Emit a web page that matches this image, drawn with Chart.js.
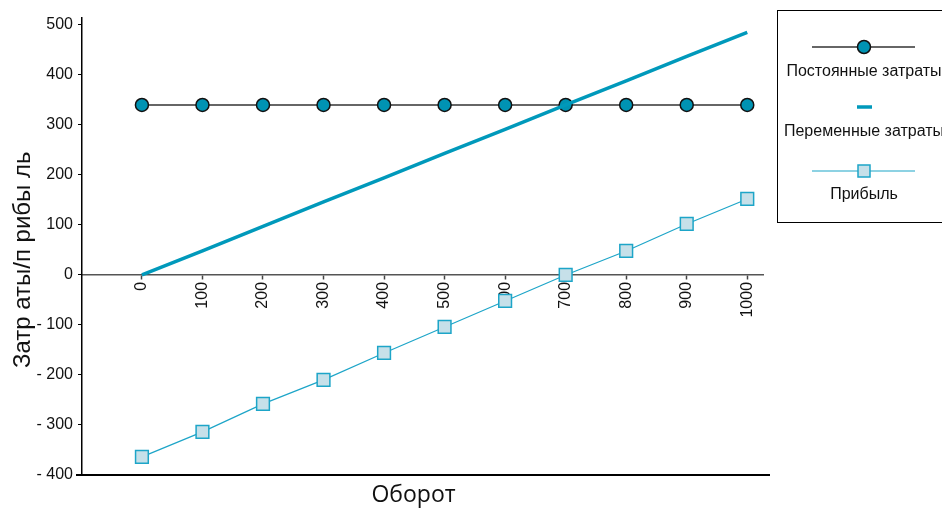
<!DOCTYPE html>
<html>
<head>
<meta charset="utf-8">
<script src="https://cdn.jsdelivr.net/npm/chart.js@4/dist/chart.umd.min.js"></script>
<style>
  html, body { margin: 0; padding: 0; background: #fff; }
  #wrap { width: 942px; height: 513px; position: relative; }
</style>
</head>
<body>
<div id="wrap"><canvas id="breakEven"></canvas></div>
<script>
// values
const turnover = [0, 100, 200, 300, 400, 500, 600, 700, 800, 900, 1000];
const fixedCosts = [340, 340, 340, 340, 340, 340, 340, 340, 340, 340, 340];
const variableCosts = [0, 48, 97, 146, 194, 243, 291, 340, 388, 437, 485];
const profit = [-364, -314, -258, -210, -156, -104, -52, 0, 48, 102, 152];
const yTicks = [-400, -300, -200, -100, 0, 100, 200, 300, 400, 500];

const seriesNames = ["Постоянные затраты", "Переменные затраты", "Прибыль"];

const TEAL = "#0093b3";
const LINE_BLUE = "#1da5c8";
const SQ_FILL = "#c6e0e9";
const FONT = "'Liberation Sans', Arial, sans-serif";

function pairs(vals) {
    return turnover.map((t, i) => ({ x: t, y: vals[i] }));
}

// legend box + bottom frame line
const extras = {
    id: "extras",
    afterDraw(chart) {
        const ctx = chart.ctx;
        const area = chart.chartArea;
        ctx.save();
        // bottom frame line
        ctx.strokeStyle = "#000";
        ctx.lineWidth = 2;
        ctx.beginPath();
        ctx.moveTo(area.left - 6, area.bottom);
        ctx.lineTo(area.right + 7, area.bottom);
        ctx.stroke();

        // legend box
        ctx.lineWidth = 1;
        ctx.strokeStyle = "#000";
        ctx.strokeRect(777.5, 10.5, 170, 212);

        const cx = 864;
        ctx.font = "16px " + FONT;
        ctx.fillStyle = "#111";
        ctx.textAlign = "center";
        ctx.textBaseline = "middle";

        // item 1
        ctx.strokeStyle = "#333";
        ctx.lineWidth = 1.5;
        ctx.beginPath();
        ctx.moveTo(812, 47); ctx.lineTo(915, 47);
        ctx.stroke();
        ctx.beginPath();
        ctx.arc(cx, 47, 6.5, 0, Math.PI * 2);
        ctx.fillStyle = TEAL;
        ctx.fill();
        ctx.strokeStyle = "#111";
        ctx.stroke();
        ctx.fillStyle = "#111";
        ctx.fillText(seriesNames[0], cx, 72);

        // item 2
        ctx.strokeStyle = "#0099bb";
        ctx.lineWidth = 3.5;
        ctx.beginPath();
        ctx.moveTo(857, 107); ctx.lineTo(872, 107);
        ctx.stroke();
        ctx.fillText(seriesNames[1], cx, 132);

        // item 3
        ctx.strokeStyle = LINE_BLUE;
        ctx.lineWidth = 1.2;
        ctx.beginPath();
        ctx.moveTo(812, 171); ctx.lineTo(915, 171);
        ctx.stroke();
        ctx.fillStyle = SQ_FILL;
        ctx.fillRect(cx - 6, 165, 12, 12);
        ctx.lineWidth = 1.5;
        ctx.strokeRect(cx - 6, 165, 12, 12);
        ctx.fillStyle = "#111";
        ctx.fillText(seriesNames[2], cx, 195);
        ctx.restore();
    },
};

const ctx = document.getElementById("breakEven").getContext("2d");
window.breakEvenChart = new Chart(ctx, {
    type: "line",
    data: {
        datasets: [
            {
                label: seriesNames[0],
                data: pairs(fixedCosts),
                borderColor: "#333",
                borderWidth: 1.5,
                pointStyle: "circle",
                pointRadius: 6.5,
                pointBackgroundColor: TEAL,
                pointBorderColor: "#111",
                pointBorderWidth: 1.5,
                order: 2,
            },
            {
                label: seriesNames[1],
                data: pairs(variableCosts),
                borderColor: "#0099bb",
                borderWidth: 3.5,
                pointRadius: 0,
                order: 1,
            },
            {
                label: seriesNames[2],
                data: pairs(profit),
                borderColor: LINE_BLUE,
                borderWidth: 1.2,
                pointStyle: "rect",
                pointRadius: 9,
                pointBackgroundColor: SQ_FILL,
                pointBorderColor: LINE_BLUE,
                pointBorderWidth: 1.5,
                order: 0,
            },
        ],
    },
    options: {
        responsive: true,
        maintainAspectRatio: false,
        animation: false,
        layout: { padding: { top: 18, right: 179, left: 0, bottom: 0 } },
        plugins: {
            legend: { display: false },
            tooltip: { enabled: false },
            title: {
                display: true,
                position: "bottom",
                fullSize: false,
                // trailing spaces nudge the centred title a bit to the left
                text: "Оборот\u00a0\u00a0\u00a0",
                color: "#111",
                font: { family: "'Open Sans', sans-serif", size: 23, weight: "normal" },
                padding: { top: 7, bottom: 3.5 },
            },
        },
        scales: {
            x: {
                type: "linear",
                position: { y: 0 },
                min: -99,
                max: 1026,
                afterBuildTicks: (s) => {
                    s.ticks = turnover.map((v) => ({ value: v }));
                },
                ticks: {
                    minRotation: 90,
                    maxRotation: 90,
                    color: "#111",
                    padding: 3,
                    font: { family: FONT, size: 16 },
                    callback: (v) => String(v),
                },
                grid: {
                    drawOnChartArea: false,
                    tickLength: 4,
                    tickColor: "#444",
                    tickWidth: 1.5,
                },
                border: { color: "#555", width: 1.5 },
            },
            y: {
                min: -400,
                max: 514,
                afterBuildTicks: (s) => {
                    s.ticks = yTicks.map((v) => ({ value: v }));
                },
                afterFit: (s) => { s.width = 82; },
                ticks: {
                    color: "#111",
                    padding: 5,
                    font: { family: FONT, size: 16 },
                    callback: (v) => (v < 0 ? "- " + Math.abs(v) : String(v)),
                },
                grid: {
                    drawOnChartArea: false,
                    tickLength: 4,
                    tickColor: "#000",
                },
                border: { color: "#000", width: 1.5 },
                title: {
                    display: true,
                    // trailing spaces push the rotated title slightly down
                    text: "Затр аты/п рибы ль\u00a0\u00a0\u00a0\u00a0",
                    color: "#111",
                    font: { family: FONT, size: 24 },
                    padding: { top: 9, bottom: 4 },
                },
            },
        },
    },
    plugins: [extras],
});
</script>
</body>
</html>
